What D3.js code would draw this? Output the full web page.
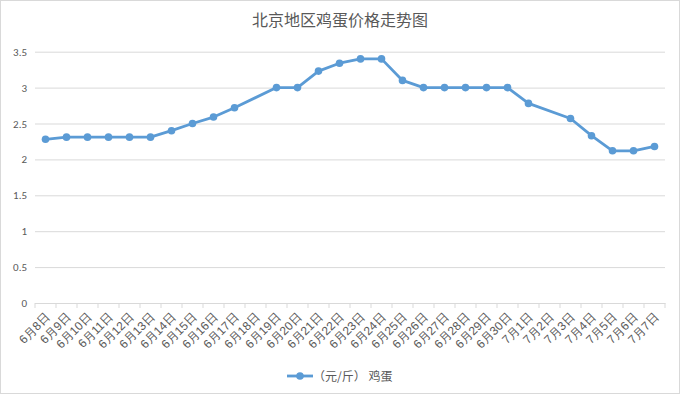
<!DOCTYPE html>
<html>
<head>
<meta charset="utf-8">
<script src="https://cdn.jsdelivr.net/npm/d3@7"></script>
<style>
  body { margin: 0; background: #fff; }
  svg { display: block; font-family: "Microsoft YaHei", "Noto Sans CJK SC", sans-serif; }
</style>
</head>
<body>
<svg width="680" height="394"></svg>
<script>
var categories = ["6月8日","6月9日","6月10日","6月11日","6月12日","6月13日","6月14日","6月15日",
  "6月16日","6月17日","6月18日","6月19日","6月20日","6月21日","6月22日","6月23日","6月24日",
  "6月25日","6月26日","6月27日","6月28日","6月29日","6月30日",
  "7月1日","7月2日","7月3日","7月4日","7月5日","7月6日","7月7日"];
// null = no value that day (line joins across the gap)
var prices = [2.28,2.31,2.31,2.31,2.31,2.31,2.40,2.50,2.59,2.72,null,3.0,3.0,3.23,3.34,3.4,3.4,
  3.1,3.0,3.0,3.0,3.0,3.0,2.78,null,2.57,2.33,2.12,2.12,2.18];
var yTicks = [0,0.5,1,1.5,2,2.5,3,3.5];
var seriesName = "（元/斤） 鸡蛋";
var title = "北京地区鸡蛋价格走势图";

var width = 680, height = 394;
var plotL = 35, plotR = 665, plotT = 51.7, plotB = 303;
var color = "#5B9BD5";
var svg = d3.select("svg");

svg.append("rect")
  .attr("x",0.5).attr("y",0.5)
  .attr("width",width-1).attr("height",height-1)
  .attr("fill","#fff").attr("stroke","#d9d9d9");

svg.append("text")
  .text(title)
  .attr("x",width/2).attr("y",26)
  .attr("text-anchor","middle")
  .attr("fill","#595959")
  .style("font-size","16px");

var x = d3.scaleBand().domain(categories).range([plotL,plotR]);
var y = d3.scaleLinear().domain([0,3.5]).range([plotB,plotT]);

// grid + y labels
var yAxis = svg.append("g")
  .attr("transform","translate("+plotL+",0)")
  .call(d3.axisLeft(y).tickValues(yTicks).tickSize(-(plotR-plotL)).tickPadding(8)
    .tickFormat(function(d){ return d; }));
yAxis.select(".domain").remove();
yAxis.selectAll("line").attr("stroke","#d9d9d9");
yAxis.selectAll("text").attr("fill","#595959").style("font-size","11px")
  .style("font-family","Calibri, Carlito, 'Liberation Sans', sans-serif");

// x axis
var xAxis = svg.append("g")
  .attr("transform","translate(0,"+plotB+")")
  .call(d3.axisBottom(x).tickSize(0).tickPadding(0));
xAxis.select(".domain").attr("stroke","#d9d9d9");
xAxis.selectAll(".tick text")
  .attr("fill","#595959")
  .style("font-size","12px")
  .attr("text-anchor","end")
  .attr("dy",0)
  .attr("transform","translate(5,15) rotate(-45)");
// tick marks at band edges
var edges = categories.map(function(c){ return x(c); }).concat([plotR]);
svg.append("g").selectAll("line")
  .data(edges).enter().append("line")
  .attr("x1",function(d){ return d; }).attr("x2",function(d){ return d; })
  .attr("y1",plotB).attr("y2",plotB+5)
  .attr("stroke","#d9d9d9");

var pts = categories.map(function(c,i){ return {cat:c, v:prices[i]}; })
  .filter(function(d){ return d.v !== null; });

var line = d3.line()
  .x(function(d){ return x(d.cat) + x.bandwidth()/2; })
  .y(function(d){ return y(d.v); });

svg.append("path")
  .datum(pts)
  .attr("d",line)
  .attr("fill","none")
  .attr("stroke",color)
  .attr("stroke-width",2.8)
  .attr("stroke-linejoin","round");

svg.selectAll("circle.pt")
  .data(pts).enter().append("circle")
  .attr("class","pt")
  .attr("cx",function(d){ return x(d.cat) + x.bandwidth()/2; })
  .attr("cy",function(d){ return y(d.v); })
  .attr("r",3.8)
  .attr("fill",color);

// legend
var lg = svg.append("g").attr("transform","translate(287,376)");
lg.append("line").attr("x1",0).attr("x2",26).attr("y1",0).attr("y2",0)
  .attr("stroke",color).attr("stroke-width",2.8);
lg.append("circle").attr("cx",13).attr("cy",0).attr("r",3.8).attr("fill",color);
lg.append("text").text(seriesName)
  .attr("x",26).attr("y",4.5)
  .attr("fill","#595959")
  .style("font-size","12px");
</script>
</body>
</html>
